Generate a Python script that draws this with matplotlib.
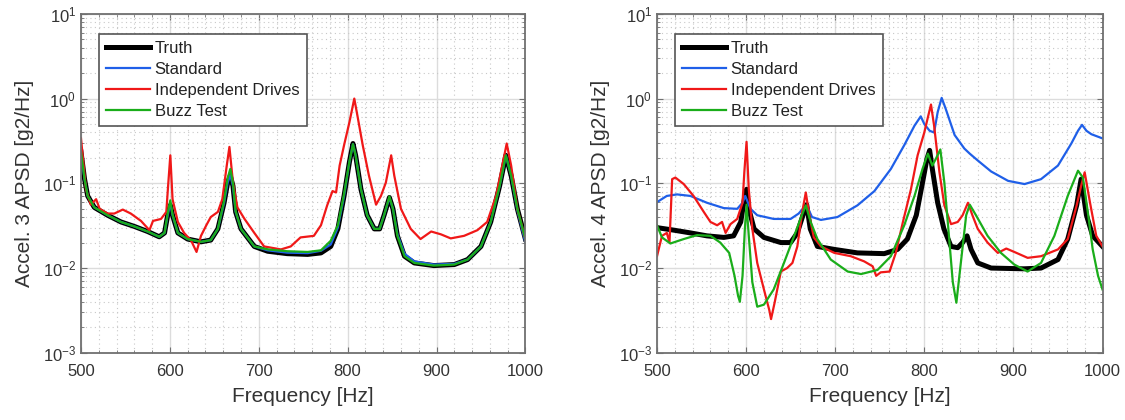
import numpy as np
import matplotlib
matplotlib.use('Agg')
import matplotlib.pyplot as plt
from matplotlib.ticker import MultipleLocator, LogLocator, NullFormatter

plt.rcParams['font.family'] = ['Liberation Sans', 'DejaVu Sans']
plt.rcParams['mathtext.default'] = 'regular'

# ---- Accel. 3 (left) ----
f3_truth = [500, 504, 507.5, 515, 530, 545, 560, 575, 588, 594, 597.5, 600.5, 603, 609,
            620, 635, 646, 654, 661, 665, 668, 671, 674, 680, 695, 710, 732, 755, 770,
            781, 789, 796, 802, 806, 809, 815, 822, 830, 836, 841, 847, 851, 856, 864,
            875, 897, 920, 935, 950, 961, 971, 978, 984, 991, 1000]
a3_truth = [0.234, 0.112, 0.071, 0.052, 0.042, 0.035, 0.031, 0.027, 0.0234, 0.026, 0.042,
            0.055, 0.042, 0.026, 0.022, 0.0204, 0.0214, 0.029, 0.059, 0.102, 0.123, 0.093,
            0.046, 0.029, 0.018, 0.0158, 0.0148, 0.0145, 0.0151, 0.018, 0.029, 0.071,
            0.178, 0.295, 0.214, 0.085, 0.042, 0.029, 0.029, 0.042, 0.068, 0.050, 0.024,
            0.0138, 0.0115, 0.0107, 0.011, 0.0126, 0.018, 0.035, 0.093, 0.214, 0.123,
            0.050, 0.022]
a3_standard = [0.234, 0.112, 0.071, 0.052, 0.042, 0.035, 0.031, 0.027, 0.0234, 0.026, 0.042,
               0.058, 0.042, 0.026, 0.022, 0.0204, 0.0214, 0.029, 0.059, 0.102, 0.125, 0.093,
               0.046, 0.029, 0.018, 0.0162, 0.0152, 0.015, 0.016, 0.019, 0.030, 0.071,
               0.178, 0.29, 0.214, 0.085, 0.042, 0.029, 0.029, 0.042, 0.068, 0.050, 0.025,
               0.0148, 0.012, 0.011, 0.0112, 0.0126, 0.018, 0.035, 0.093, 0.214, 0.123,
               0.048, 0.020]
a3_buzz = [0.234, 0.112, 0.071, 0.052, 0.042, 0.035, 0.031, 0.027, 0.0234, 0.026, 0.044,
           0.063, 0.043, 0.026, 0.022, 0.0204, 0.0214, 0.029, 0.062, 0.115, 0.148, 0.100,
           0.047, 0.029, 0.018, 0.0166, 0.0158, 0.0155, 0.0162, 0.021, 0.032, 0.075,
           0.18, 0.29, 0.214, 0.085, 0.042, 0.029, 0.029, 0.042, 0.070, 0.050, 0.024,
           0.0138, 0.0115, 0.0107, 0.011, 0.0126, 0.018, 0.035, 0.093, 0.214, 0.123,
           0.050, 0.022]
f3_indep = [500, 505.6, 511, 517, 521, 530, 537.5, 547, 556, 567.5, 577, 581, 590, 596, 598,
            600.5, 603, 609, 616, 624, 630, 635, 641, 646, 654, 659, 664, 667, 671, 676,
            684, 695, 706, 725, 736, 747, 762, 770, 777, 783, 787, 791, 796, 802, 807.5,
            811, 817, 824, 832, 837.5, 843, 849, 852.5, 860, 871, 882, 894, 905, 916, 931,
            946, 957, 967, 974, 979, 984, 991, 1000]
a3_indep = [0.339, 0.085, 0.056, 0.065, 0.050, 0.044, 0.044, 0.049, 0.044, 0.036, 0.028,
            0.036, 0.038, 0.046, 0.093, 0.214, 0.065, 0.035, 0.026, 0.021, 0.0155, 0.024,
            0.032, 0.040, 0.046, 0.065, 0.162, 0.269, 0.102, 0.052, 0.038, 0.026, 0.018,
            0.0166, 0.018, 0.023, 0.024, 0.032, 0.055, 0.081, 0.078, 0.162, 0.282, 0.525,
            1.0, 0.631, 0.282, 0.123, 0.056, 0.071, 0.102, 0.214, 0.123, 0.050, 0.029,
            0.022, 0.027, 0.025, 0.0224, 0.024, 0.028, 0.035, 0.071, 0.162, 0.295, 0.162,
            0.050, 0.022]

# ---- Accel. 4 (right) ----
f4_truth = [500, 519, 537.5, 556, 575, 586, 594, 598, 600.5, 603, 609, 620, 639, 650, 657.5,
            665, 668, 672, 680, 699, 725, 755, 770, 781, 791, 798, 803, 806, 809, 815, 822,
            830, 837.5, 843, 848, 852.5, 860, 875, 912, 931, 950, 961, 971, 976, 982, 989,
            1000]
a4_truth = [0.030, 0.028, 0.026, 0.024, 0.023, 0.024, 0.035, 0.065, 0.085, 0.050, 0.029,
            0.023, 0.020, 0.020, 0.026, 0.046, 0.056, 0.029, 0.018, 0.0166, 0.0151, 0.0148,
            0.0166, 0.022, 0.042, 0.102, 0.195, 0.245, 0.148, 0.059, 0.029, 0.018, 0.0174,
            0.020, 0.024, 0.0166, 0.0115, 0.010, 0.0098, 0.010, 0.0126, 0.022, 0.055,
            0.112, 0.042, 0.024, 0.018]
f4_standard = [500, 511, 522.5, 537.5, 556, 575, 590, 596, 599, 605, 612.5, 631, 650, 659,
               665, 669, 674, 684, 702.5, 725, 744, 762.5, 777.5, 789, 796, 800, 806, 811,
               815, 819.5, 824, 834, 845, 851, 860, 875, 894, 912.5, 931, 950, 965, 972.5,
               977, 982, 987.5, 1000]
a4_standard = [0.060, 0.071, 0.074, 0.071, 0.059, 0.051, 0.050, 0.059, 0.071, 0.050, 0.042,
               0.038, 0.038, 0.044, 0.052, 0.052, 0.040, 0.037, 0.040, 0.055, 0.081, 0.148,
               0.282, 0.479, 0.617, 0.501, 0.417, 0.398, 0.692, 1.02, 0.759, 0.372, 0.257,
               0.224, 0.186, 0.138, 0.107, 0.098, 0.112, 0.162, 0.295, 0.417, 0.490, 0.417,
               0.380, 0.339]
f4_indep = [500, 505.6, 511, 514, 517, 520.6, 530, 541, 552.5, 560, 567.5, 573, 577, 582.5,
            590, 596, 598, 600.5, 603, 607, 612.5, 620, 626, 628, 632, 639, 646, 652, 657.5,
            663, 667, 671, 676, 684, 699, 717.5, 732.5, 742, 746, 751, 761, 768, 776, 785,
            792.5, 800, 804.5, 807.5, 811, 817, 822.5, 830, 837.5, 843, 849, 854, 860, 871,
            882.5, 892, 901, 916, 931, 950, 961, 971, 976, 980, 986, 993, 1000]
a4_indep = [0.0138, 0.024, 0.026, 0.020, 0.112, 0.117, 0.098, 0.071, 0.046, 0.035, 0.032,
            0.035, 0.026, 0.033, 0.038, 0.059, 0.135, 0.309, 0.085, 0.029, 0.0115, 0.0056,
            0.0032, 0.0025, 0.0039, 0.0091, 0.010, 0.0115, 0.018, 0.046, 0.078, 0.042, 0.023,
            0.018, 0.0151, 0.0138, 0.012, 0.0105, 0.0081, 0.0089, 0.0091, 0.0151, 0.035,
            0.085, 0.214, 0.398, 0.631, 0.851, 0.479, 0.135, 0.055, 0.033, 0.035, 0.042,
            0.059, 0.042, 0.029, 0.020, 0.0151, 0.017, 0.0155, 0.0132, 0.0138, 0.0166,
            0.022, 0.055, 0.093, 0.135, 0.059, 0.024, 0.018]
f4_buzz = [500, 505.6, 515, 530, 545, 560, 571, 581, 587, 591, 593, 596, 598.6, 600.5, 603,
           607, 612.5, 620, 631, 642.5, 654, 661, 667, 672.5, 680, 695, 714, 729, 747.5,
           762.5, 777.5, 789, 798, 804, 809, 813, 818, 822.5, 827, 832, 836, 841, 847, 851,
           858, 871, 886, 901, 916, 931, 946, 961, 972.5, 978, 984, 989, 995, 1000]
a4_buzz = [0.032, 0.023, 0.0195, 0.022, 0.0245, 0.024, 0.020, 0.0151, 0.0081, 0.0047, 0.004,
           0.0081, 0.029, 0.056, 0.024, 0.0068, 0.0035, 0.0037, 0.0056, 0.0115, 0.024, 0.038,
           0.055, 0.035, 0.022, 0.0126, 0.0091, 0.0085, 0.0095, 0.0138, 0.032, 0.071, 0.148,
           0.224, 0.162, 0.195, 0.251, 0.102, 0.029, 0.0068, 0.0039, 0.0115, 0.042, 0.056,
           0.042, 0.024, 0.0151, 0.011, 0.0091, 0.0115, 0.024, 0.071, 0.141, 0.117, 0.042,
           0.0166, 0.0081, 0.0056]

labels = ['Truth', 'Standard', 'Independent Drives', 'Buzz Test']
colors = ['black', '#1f5fe8', '#f01818', '#1aad1a']

fig = plt.figure(figsize=(11.25, 4.2), dpi=100)
ax1 = fig.add_axes([0.072, 0.160, 0.395, 0.807])
ax2 = fig.add_axes([0.584, 0.160, 0.396, 0.807])

panels = [
    (ax1, 'Accel. 3 APSD [g2/Hz]',
     [(f3_truth, a3_truth), (f3_truth, a3_standard), (f3_indep, a3_indep), (f3_truth, a3_buzz)]),
    (ax2, 'Accel. 4 APSD [g2/Hz]',
     [(f4_truth, a4_truth), (f4_standard, a4_standard), (f4_indep, a4_indep), (f4_buzz, a4_buzz)]),
]

for ax, ylab, series in panels:
    for i, (f, a) in enumerate(series):
        lw = 3.6 if i == 0 else 1.6
        ax.plot(f, a, color=colors[i], lw=lw, label=labels[i], solid_joinstyle='round')
    ax.set_yscale('log')
    ax.set_xlim(500, 1000)
    ax.set_ylim(1e-3, 1e1)
    ax.xaxis.set_major_locator(MultipleLocator(100))
    ax.xaxis.set_minor_locator(MultipleLocator(20))
    ax.yaxis.set_major_locator(LogLocator(base=10, numticks=10))
    ax.yaxis.set_minor_locator(LogLocator(base=10, subs=np.arange(2, 10), numticks=20))
    ax.yaxis.set_minor_formatter(NullFormatter())
    ax.grid(True, which='major', color='#dcdcdc', lw=1.0, ls='-')
    ax.grid(True, which='minor', color='#c8c8c8', lw=0.8, ls=(0, (1, 3)))
    ax.set_axisbelow(True)
    for sp in ax.spines.values():
        sp.set_color('#707070')
        sp.set_linewidth(1.3)
    ax.tick_params(which='both', direction='in', top=True, right=True, colors='#707070',
                   labelcolor='#333333', labelsize=12)
    ax.tick_params(axis='x', which='major', pad=8)
    ax.tick_params(which='major', length=4)
    ax.tick_params(which='minor', length=2)
    ax.set_xlabel('Frequency [Hz]', fontsize=15, color='#333333', labelpad=6)
    ax.set_ylabel(ylab, fontsize=15, color='#333333', labelpad=6)
    leg = ax.legend(loc='upper left', bbox_to_anchor=(0.04, 0.942), fontsize=12,
                    fancybox=False, framealpha=1, edgecolor='#555555',
                    handlelength=2.6, handletextpad=0.3, labelspacing=0.35,
                    borderpad=0.45, borderaxespad=0)
    leg.get_frame().set_linewidth(1.2)
    for t in leg.get_texts():
        t.set_color('#222222')

fig.savefig('out.png', dpi=100)
